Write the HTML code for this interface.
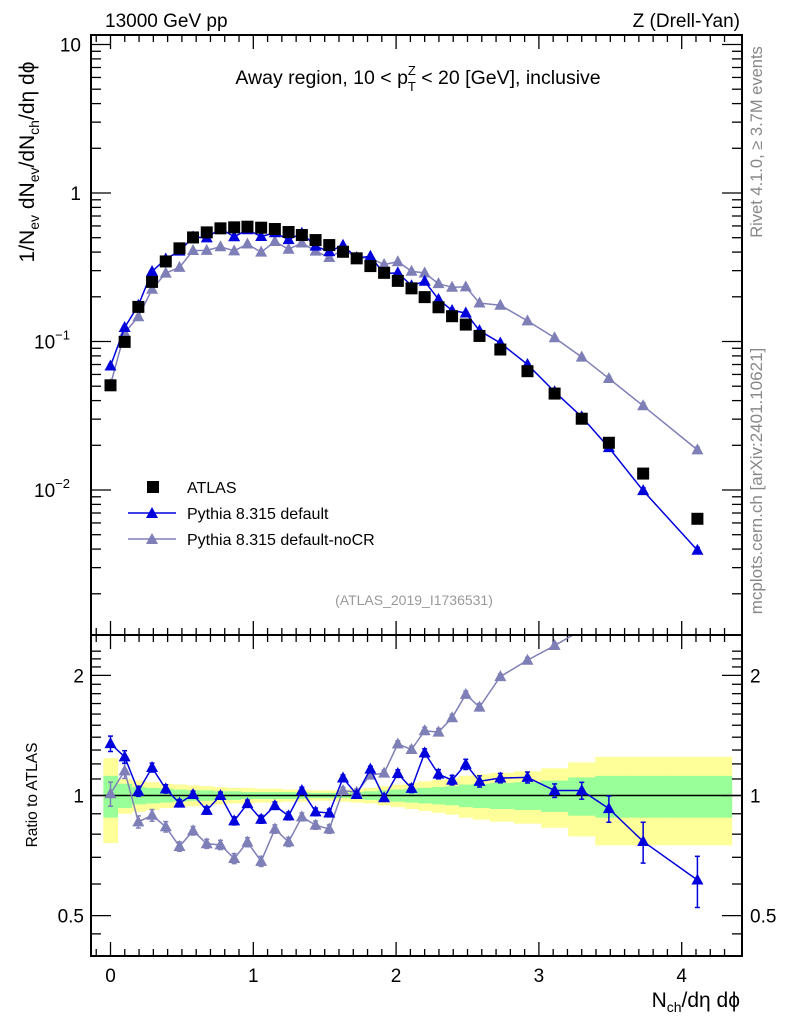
<!DOCTYPE html>
<html><head><meta charset="utf-8"><style>
html,body{margin:0;padding:0;background:#fff;}
svg{display:block;font-family:"Liberation Sans",sans-serif;}
</style></head><body>
<svg id="chart" width="786" height="1024" viewBox="0 0 786 1024">
<defs>
<clipPath id="cm"><rect x="91" y="35" width="651" height="600"/></clipPath>
<clipPath id="cr"><rect x="91" y="635" width="651" height="321"/></clipPath>
</defs>
<g id="bands" clip-path="url(#cr)"></g>
<g id="ticks"></g>
<line x1="91" y1="795.5" x2="742" y2="795.5" stroke="#000" stroke-width="1.5"/>
<g id="mainmarks" clip-path="url(#cm)"></g>
<g id="ratiomarks" clip-path="url(#cr)"></g>
<rect x="91" y="35" width="651" height="600" fill="none" stroke="#000" stroke-width="2"/>
<rect x="91" y="635" width="651" height="321" fill="none" stroke="#000" stroke-width="2"/>
<text x="105" y="27" font-size="19">13000 GeV pp</text>
<text x="740" y="27" font-size="19" text-anchor="end">Z (Drell-Yan)</text>
<text x="418" y="84" font-size="19.5" text-anchor="middle">Away region, 10 &lt; p<tspan font-size="13" dy="7">T</tspan><tspan font-size="13" dx="-8" dy="-16">Z</tspan><tspan dy="9"> &lt; 20 [GeV], inclusive</tspan></text>
<text transform="translate(34,162) rotate(-90)" font-size="21" text-anchor="middle">1/N<tspan font-size="14" dy="5">ev</tspan><tspan dy="-5"> dN</tspan><tspan font-size="14" dy="5">ev</tspan><tspan dy="-5">/dN</tspan><tspan font-size="14" dy="5">ch</tspan><tspan dy="-5">/dη dϕ</tspan></text>
<text transform="translate(37,795) rotate(-90)" font-size="15.5" text-anchor="middle">Ratio to ATLAS</text>
<text x="740" y="1007" font-size="21" text-anchor="end">N<tspan font-size="14" dy="5">ch</tspan><tspan dy="-5">/dη dϕ</tspan></text>
<text transform="translate(762,142) rotate(-90)" font-size="16.5" fill="#888" text-anchor="middle">Rivet 4.1.0, ≥ 3.7M events</text>
<text transform="translate(762,481) rotate(-90)" font-size="17" fill="#888" text-anchor="middle">mcplots.cern.ch [arXiv:2401.10621]</text>
<text x="414" y="605" font-size="14" fill="#999" text-anchor="middle">(ATLAS_2019_I1736531)</text>
<g>
<rect x="147" y="481" width="12" height="12" fill="#000"/>
<text x="187" y="493" font-size="16">ATLAS</text>
<line x1="128" y1="513" x2="176" y2="513" stroke="#0000dd" stroke-width="1.5"/>
<polygon points="152,507 158,518 146,518" fill="#0000dd"/>
<text x="187" y="519" font-size="16">Pythia 8.315 default</text>
<line x1="128" y1="539" x2="176" y2="539" stroke="#7f7fb8" stroke-width="1.5"/>
<polygon points="152,533 158,544 146,544" fill="#7f7fb8"/>
<text x="187" y="545" font-size="16">Pythia 8.315 default-noCR</text>
</g>
</svg>
<script>
const xVals=[0,0.099,0.195,0.291,0.387,0.483,0.578,0.674,0.77,0.866,0.959,1.055,1.151,1.247,1.34,1.436,1.532,1.628,1.724,1.82,1.916,2.012,2.108,2.2,2.297,2.392,2.488,2.584,2.73,2.92,3.11,3.30,3.49,3.73,4.11];
const atlasVals=[0.0507,0.0994,0.171,0.252,0.346,0.424,0.502,0.543,0.578,0.587,0.593,0.584,0.572,0.546,0.521,0.482,0.446,0.402,0.363,0.322,0.29,0.256,0.228,0.199,0.170,0.148,0.130,0.109,0.0883,0.0631,0.0446,0.0302,0.0208,0.0129,0.0064];
const ratioDefault=[1.349,1.25,1.025,1.175,1.039,0.957,1.006,0.918,1.0,0.864,0.954,0.872,0.943,0.889,1.029,0.91,0.904,1.106,1.006,1.164,0.987,1.135,1.042,1.279,1.131,1.093,1.197,1.085,1.106,1.11,1.029,1.029,0.927,0.767,0.614];
const ratioNoCR=[1.01,1.153,0.859,0.892,0.835,0.745,0.816,0.757,0.752,0.695,0.764,0.684,0.824,0.765,0.884,0.843,0.824,1.029,1.019,1.125,1.138,1.346,1.304,1.453,1.442,1.566,1.793,1.665,1.986,2.183,2.376,2.60,2.71,2.86,2.91];
const errDefault=[0.06,0.045,0.03,0.03,0.025,0.02,0.02,0.02,0.02,0.02,0.02,0.02,0.02,0.02,0.02,0.02,0.02,0.02,0.02,0.02,0.02,0.025,0.025,0.03,0.03,0.03,0.035,0.035,0.03,0.035,0.04,0.05,0.07,0.09,0.09];
const errNoCR=[0.07,0.05,0.03,0.03,0.025,0.02,0.02,0.02,0.02,0.02,0.02,0.02,0.02,0.02,0.02,0.02,0.02,0.02,0.02,0.02,0.02,0.025,0.025,0.03,0.03,0.03,0.035,0.035,0.03,0.035,0.04,0.05,0.07,0.09,0.09];
const bandYellow=[.24,.10,.09,.08,.07,.065,.06,.055,.05,.045,.045,.04,.04,.035,.035,.03,.03,.035,.04,.045,.055,.065,.075,.085,.095,.105,.12,.13,.14,.15,.17,.21,.25,.25,.25];
const bandGreen=[.12,.07,.05,.045,.04,.035,.03,.03,.025,.025,.02,.02,.02,.02,.018,.015,.015,.015,.02,.025,.03,.035,.04,.045,.05,.055,.065,.07,.075,.08,.09,.11,.12,.12,.12];
const xTicks=[0,1,2,3,4];
const mainTicks=[{v:10,t:"10"},{v:1,t:"1"},{v:0.1,t:"10",e:"−1"},{v:0.01,t:"10",e:"−2"}];
const ratioTicks=[{v:2,t:"2"},{v:1,t:"1"},{v:0.5,t:"0.5"}];

const NS="http://www.w3.org/2000/svg";
const X=v=>110.5+142.8*v;
const YM=v=>193-148.5*Math.log10(v);
const YR=v=>795.5-399*Math.log10(v);
function mk(tag,attrs,parent){const e=document.createElementNS(NS,tag);for(const k in attrs)e.setAttribute(k,attrs[k]);parent.appendChild(e);return e;}
const bands=document.getElementById('bands'),ticks=document.getElementById('ticks'),mm=document.getElementById('mainmarks'),rm=document.getElementById('ratiomarks');
const edges=[-0.05];
for(let i=0;i<xVals.length-1;i++)edges.push((xVals[i]+xVals[i+1])/2);
edges.push(4.35);
[[bandYellow,'#ffff99'],[bandGreen,'#99ff99']].forEach(([arr,col],bi)=>{
  arr.forEach((e,i)=>{
    const r=mk('rect',{x:X(edges[i]),width:X(edges[i+1])-X(edges[i])+0.5,y:YR(1+e),height:YR(1-e)-YR(1+e),fill:col},bands);
    
    
  });
});
for(let k=-1;k<=43;k++){
  const v=k/10;const x=X(v);if(x<91||x>742)continue;
  const major=k%10===0;const L=major?14:7;
  [[35,1],[635,-1],[635,1],[956,-1]].forEach(([y,d])=>{mk('line',{x1:x,x2:x,y1:y,y2:y+d*L,stroke:'#000','stroke-width':1.3},ticks);});
}
xTicks.forEach(v=>{const t=mk('text',{x:X(v),y:982,'font-size':19,'text-anchor':'middle'},ticks);t.textContent=v;
  });
for(let d=-3;d<=1;d++){for(let m=1;m<=9;m++){const v=m*Math.pow(10,d);const y=YM(v);if(y<35||y>635)continue;
  const L=m===1?20:10;mk('line',{x1:91,x2:91+L,y1:y,y2:y,stroke:'#000','stroke-width':1.3},ticks);mk('line',{x1:742,x2:742-L,y1:y,y2:y,stroke:'#000','stroke-width':1.3},ticks);}}
mainTicks.forEach(o=>{const t=mk('text',{x:o.e?70:81,y:YM(o.v)+7,'font-size':19,'text-anchor':'end'},ticks);t.textContent=o.t;
  if(o.e){const s=mk('tspan',{'font-size':13,dy:-9},t);s.textContent=o.e;}
  });
[0.45,0.5,0.6,0.7,0.8,0.9,1,1.1,1.2,1.3,1.4,1.5,1.6,1.7,1.8,1.9,2,2.1,2.2,2.3].forEach(v=>{const y=YR(v);if(y<635||y>956)return;
  const L=(v===0.5||v===1||v===2)?20:10;mk('line',{x1:91,x2:91+L,y1:y,y2:y,stroke:'#000','stroke-width':1.3},ticks);mk('line',{x1:742,x2:742-L,y1:y,y2:y,stroke:'#000','stroke-width':1.3},ticks);});
ratioTicks.forEach(o=>{[[84,'end'],[750,'start']].forEach(([x,a])=>{const t=mk('text',{x:x,y:YR(o.v)+7,'font-size':19,'text-anchor':a},ticks);t.textContent=o.t;
  });});
function tri(g,x,y,col,name){const p=mk('polygon',{points:`${x},${y-6.5} ${x+6},${y+4.5} ${x-6},${y+4.5}`,fill:col},g);}
function ebar(g,x,y1,y2,col){mk('line',{x1:x,x2:x,y1:y1,y2:y2,stroke:col,'stroke-width':1.5},g);mk('line',{x1:x-2.5,x2:x+2.5,y1:y1,y2:y1,stroke:col,'stroke-width':1.5},g);mk('line',{x1:x-2.5,x2:x+2.5,y1:y2,y2:y2,stroke:col,'stroke-width':1.5},g);}
const series=[[ratioNoCR,errNoCR,'#7f7fb8','nocr'],[ratioDefault,errDefault,'#0000dd','default']];
series.forEach(([rat,err,col,nm])=>{
  const mainVals=rat.map((r,i)=>r*atlasVals[i]);
  const pl=mk('polyline',{points:xVals.map((x,i)=>X(x)+','+YM(mainVals[i])).join(' '),fill:'none',stroke:col,'stroke-width':1.5},mm);
  
  mainVals.forEach((v,i)=>{ebar(mm,X(xVals[i]),YM(v*(1+err[i]*0.5)),YM(v*(1-err[i]*0.5)),col);tri(mm,X(xVals[i]),YM(v),col,nm+'-main-point');});
  const rl=mk('polyline',{points:xVals.map((x,i)=>X(x)+','+YR(rat[i])).join(' '),fill:'none',stroke:col,'stroke-width':1.5},rm);
  
  rat.forEach((r,i)=>{ebar(rm,X(xVals[i]),YR(r+err[i]),YR(r-err[i]),col);tri(rm,X(xVals[i]),YR(r),col,nm+'-ratio-point');});
});
atlasVals.forEach((v,i)=>{const r=mk('rect',{x:X(xVals[i])-6,y:YM(v)-6,width:12,height:12,fill:'#000'},mm);
  });
</script>
</body></html>
